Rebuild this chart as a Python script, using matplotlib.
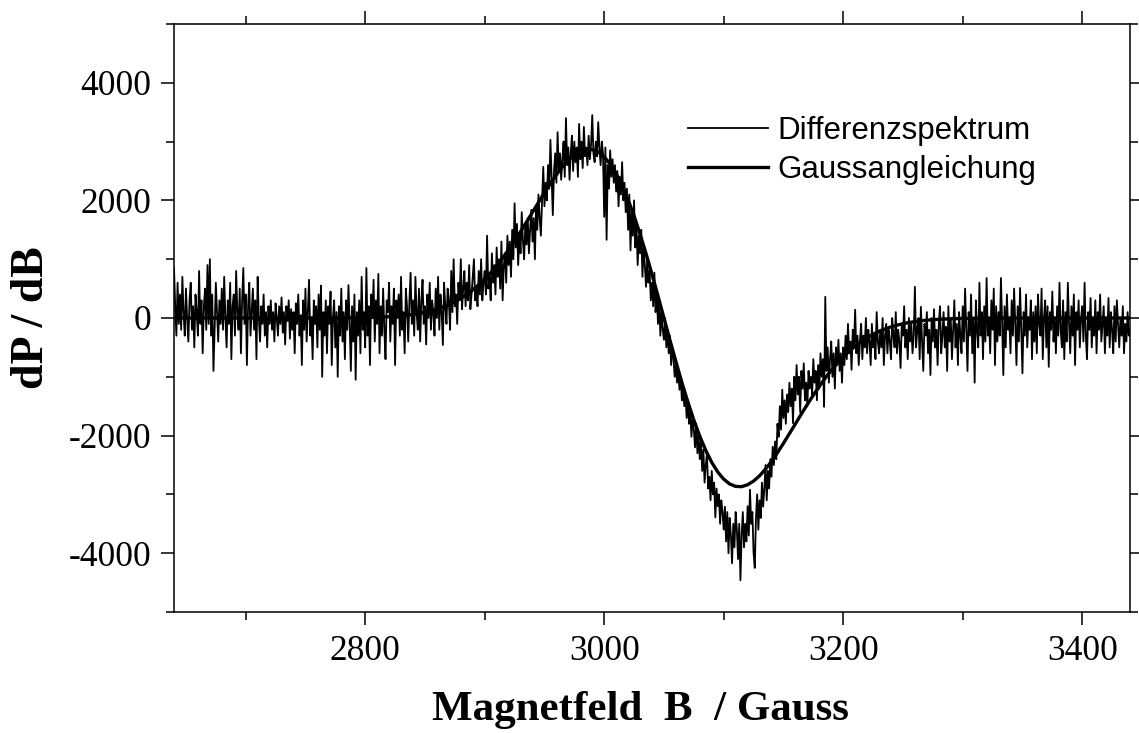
import numpy as np
import matplotlib
matplotlib.use("Agg")
import matplotlib.pyplot as plt
from matplotlib.ticker import MultipleLocator

plt.rcParams["axes.unicode_minus"] = False

# Differenzspektrum: field from 2640 G to 3440 G in 1 G steps
field_start = 2640
field_step = 1
spectrum = [
    850, 200, -300, 600, -100, 400, -200, 700, 100, -300, 500, 0, -400, 300, 600, -200, 200, -500, 400, 100,
    -300, 800, -100, 300, -600, 200, 500, -200, 900, -100, 1000, -300, 400, -900, -200, 600, 100, -400, 300, -100,
    500, -200, 700, 0, -500, 300, -100, 600, -700, 200, 400, -300, 800, 100, -200, 500, -600, 300, 850, -100,
    400, -800, 200, 600, -300, 100, 500, -200, 300, -700, 700, 0, -400, 200, -100, 400, -300, 100, -500, 200,
    -100, 300, -200, 100, -400, 250, 0, -300, 200, -100, 350, -250, 100, -450, 200, -50, 300, -350, 150, -200,
    100, -600, 250, -100, 400, -300, 50, -800, 300, -200, 500, -400, 100, 650, -300, 0, -700, 300, -100, 200,
    -500, 400, -200, 550, -1000, 100, -300, 300, -600, 200, -100, 450, -800, 0, 300, -500, 100, -1000, 200, -300,
    500, -400, 100, -700, 300, -200, 560, -100, -900, 200, -400, 400, -1050, 100, -300, 300, -600, 700, -200, 100,
    -500, 850, -300, 200, -800, 400, 0, 650, -400, 300, -100, 750, -600, 200, -300, 500, -200, -700, 300, 100,
    600, -400, 200, -100, 500, -800, 300, 0, 400, -300, 700, -200, 100, -600, 500, 200, -400, 300, 770, -100,
    300, -300, 700, 100, -200, 500, -400, 300, 650, -100, 200, -450, 400, 0, 600, -200, 300, 100, -300, 500,
    0, 700, -200, 400, 100, -460, 600, 200, -100, 500, 300, -200, 800, 100, 1000, 200, 400, -100, 600, 300,
    1000, 150, 500, 800, 200, 600, 300, 900, 150, 400, 700, 1000, 300, 500, 200, 800, 400, 1000, 300, 600,
    800, 400, 1400, 500, 700, 300, 1100, 600, 900, 400, 1200, 700, 1000, 500, 1300, 300, 900, 1100, 600, 1400,
    900, 1300, 700, 1500, 1000, 1950, 1200, 1600, 900, 1400, 1100, 1800, 1300, 1000, 1600, 1250, 1700, 1100, 1500, 1840,
    1300, 1700, 1000, 1900, 1500, 2100, 1700, 1400, 2000, 2570, 1900, 2300, 2000, 2600, 2200, 3030, 2400, 1750, 2500, 2800,
    2300, 3160, 2500, 2800, 2350, 2700, 3000, 2400, 3400, 2600, 2900, 2350, 2800, 3100, 2500, 3000, 2650, 2900, 2400, 3300,
    2700, 3000, 2550, 3250, 2750, 2900, 2600, 3100, 2700, 2950, 3450, 2800, 2650, 3000, 2750, 3330, 2900, 2600, 3000, 2800,
    1720, 2900, 1330, 2600, 2200, 2850, 2400, 2700, 2300, 2600, 2150, 2500, 1900, 2400, 2100, 2650, 2000, 2300, 1800, 2200,
    1500, 2100, 1150, 1800, 1400, 2000, 1200, 1600, 900, 1400, 1100, 1500, 700, 1200, 900, 530, 1000, 600, 800, 300,
    600, 200, 770, 100, 400, -100, 300, -300, 100, -200, -370, 0, -500, -200, -600, -300, -800, -500, -700, -1000,
    -800, -1100, -900, -1220, -1000, -1400, -1200, -1500, -1300, -1700, -1400, -1800, -1600, -2020, -1700, -1900, -2200, -1800, -2300, -2000,
    -2400, -2100, -2600, -2240, -2800, -2500, -2300, -2900, -2700, -3100, -2600, -3000, -2800, -3390, -2900, -3200, -3000, -3500, -3100, -3300,
    -3600, -3210, -3800, -3300, -4000, -3400, -3700, -4170, -3500, -3900, -3300, -3600, -4100, -3500, -4460, -3700, -3300, -3900, -3500, -3800,
    -3200, -3700, -2920, -3500, -3300, -4000, -4250, -3400, -3000, -3600, -3100, -3400, -2800, -3210, -2900, -2500, -3100, -2600, -2900, -2400,
    -2700, -2190, -2500, -2100, -2400, -1800, -2020, -1500, -1900, -1220, -1700, -1400, -1800, -1300, -1600, -1100, -1500, -1200, -1790, -1000,
    -1400, -800, -1300, -1000, -1600, -900, -1200, -770, -1400, -1100, -1500, -900, -1200, -1000, -1300, -700, -1100, -900, -1400, -800,
    -1200, -600, -1000, -700, -1510, 360, -900, -500, -1100, -700, -400, -1000, -600, -1200, -500, -800, -370, -900, -600, -1100,
    -500, -800, -300, -700, -100, -600, -400, -880, -200, -500, 140, -600, -300, -800, -400, -100, -700, -300, -500, 0,
    -600, -200, -400, -800, -100, -500, -300, -700, 100, -400, -600, -200, -500, 0, -800, -300, -100, -600, -200, -400,
    -700, 0, -300, -500, 100, -600, -200, -400, -850, -100, -300, 200, -500, -200, -700, 0, -400, -100, -600, -300,
    530, -500, -200, 0, -700, 190, -400, -900, -100, -300, 100, -600, -200, -970, 0, -400, 150, -500, -200, -800,
    -100, 200, -600, -300, 100, -500, -150, -900, 200, -400, 0, -700, -200, 300, -500, -100, -800, 100, -300, -600,
    200, -400, 500, -200, -900, 100, -300, 400, -600, 0, -1100, 300, -200, -500, 600, -300, 100, -700, 200, -400,
    680, -300, 0, -600, 300, -200, 500, -800, 200, -400, 100, -300, 680, -100, -970, 200, -500, 400, -200, 0,
    -600, 300, -300, 500, -100, -800, 200, -400, 510, -200, -940, 100, -300, 400, -500, 0, -200, 300, -700, 100,
    -400, 200, -600, 400, -100, -300, 500, -700, 0, 300, -500, 200, -830, 100, -200, 450, -400, 0, -600, 200,
    -300, 600, -200, -500, 300, -700, 100, -400, 600, -100, -600, 200, -300, 400, -800, 100, -200, 300, -500, 0,
    200, -400, 600, -300, -700, 100, -200, 340, -500, 0, -300, 300, -600, 100, -200, 400, -400, -100, 200, -600,
    0, -300, 340, -500, 100, -200, -600, 200, -400, 300, -100, -500, 0, -300, 200, -600, -100, -400, 100, -300,
    -200,
]

# Gaussangleichung: field from 2640 G to 3440 G in 5 G steps
fit_step = 5
gauss_fit = [
    0, 0, 0, 0, 0, 0, 0, 0, 0, 0, 0, 0, 0, 0, 0, 0, 0, 0, 0, 0, 0, 0, 0, 0, 0, 0,
    1, 1, 2, 3, 4, 5, 7, 10, 13, 17, 22, 29, 37, 48, 61, 77, 97, 122, 151, 186, 228, 277, 335, 401,
    478, 565, 662, 770, 890, 1021, 1162, 1312, 1469, 1632, 1800, 1966, 2131, 2289, 2438, 2570, 2684, 2773,
    2836, 2868, 2864, 2822, 2741, 2619, 2456, 2253, 2011, 1736, 1428, 1096, 742, 375, 0,
    -375, -742, -1096, -1428, -1736, -2011, -2253, -2456, -2619, -2741, -2822, -2864, -2868, -2836,
    -2773, -2684, -2570, -2438, -2289, -2131, -1966, -1800, -1632, -1469, -1312, -1162, -1021, -890,
    -770, -662, -565, -478, -401, -335, -277, -228, -186, -151, -122, -97, -77, -61, -48, -37, -29, -22,
    -17, -13, -10, -7, -5, -4, -3, -2, -1, -1,
    0, 0, 0, 0, 0, 0, 0, 0, 0, 0, 0, 0, 0, 0, 0, 0, 0, 0, 0, 0, 0, 0,
]

labels = ["Differenzspektrum", "Gaussangleichung"]
x_major = [2800, 3000, 3200, 3400]
y_major = [-4000, -2000, 0, 2000, 4000]

spec_x = field_start + field_step * np.arange(len(spectrum))
fit_x = field_start + fit_step * np.arange(len(gauss_fit))

fig = plt.figure(figsize=(11.39, 7.33), dpi=100)
ax = fig.add_axes([174 / 1139, 1 - 612 / 733, (1130 - 174) / 1139, (612 - 24) / 733])

ax.plot(spec_x, spectrum, color="black", lw=1.3, label=labels[0])
ax.plot(fit_x, gauss_fit, color="black", lw=2.4, label=labels[1])

ax.set_xlim(2640, 3440)
ax.set_ylim(-5000, 5000)
ax.set_xticks(x_major)
ax.set_yticks(y_major)
ax.xaxis.set_minor_locator(MultipleLocator(100))
ax.yaxis.set_minor_locator(MultipleLocator(1000))

serif = ["Liberation Serif", "DejaVu Serif"]
for lab in ax.get_xticklabels() + ax.get_yticklabels():
    lab.set_fontfamily(serif)
    lab.set_fontsize(25.5)

ax.tick_params(which="both", direction="out", top=True, right=True, width=1.1)
ax.tick_params(which="major", length=9.5, pad=7)
ax.tick_params(which="minor", length=5.5)
for s in ax.spines.values():
    s.set_linewidth(1.1)

ax.set_xlabel("Magnetfeld  B  / Gauss", fontfamily=serif, fontsize=31,
              fontweight="bold")
ax.xaxis.set_label_coords(0.4874, -0.167, transform=ax.transAxes)
ax.xaxis.label.set_verticalalignment("center")
ax.set_ylabel("dP / dB", fontfamily=serif, fontsize=33, fontweight="bold",
              labelpad=11)

leg = ax.legend(loc="upper left", bbox_to_anchor=(0.5377, 0.844), frameon=False,
                prop={"family": ["Liberation Sans", "DejaVu Sans"], "size": 22.5},
                handlelength=2.56, handletextpad=0.29, labelspacing=0.3,
                borderpad=0, borderaxespad=0)

fig.savefig("out.png", dpi=100)
